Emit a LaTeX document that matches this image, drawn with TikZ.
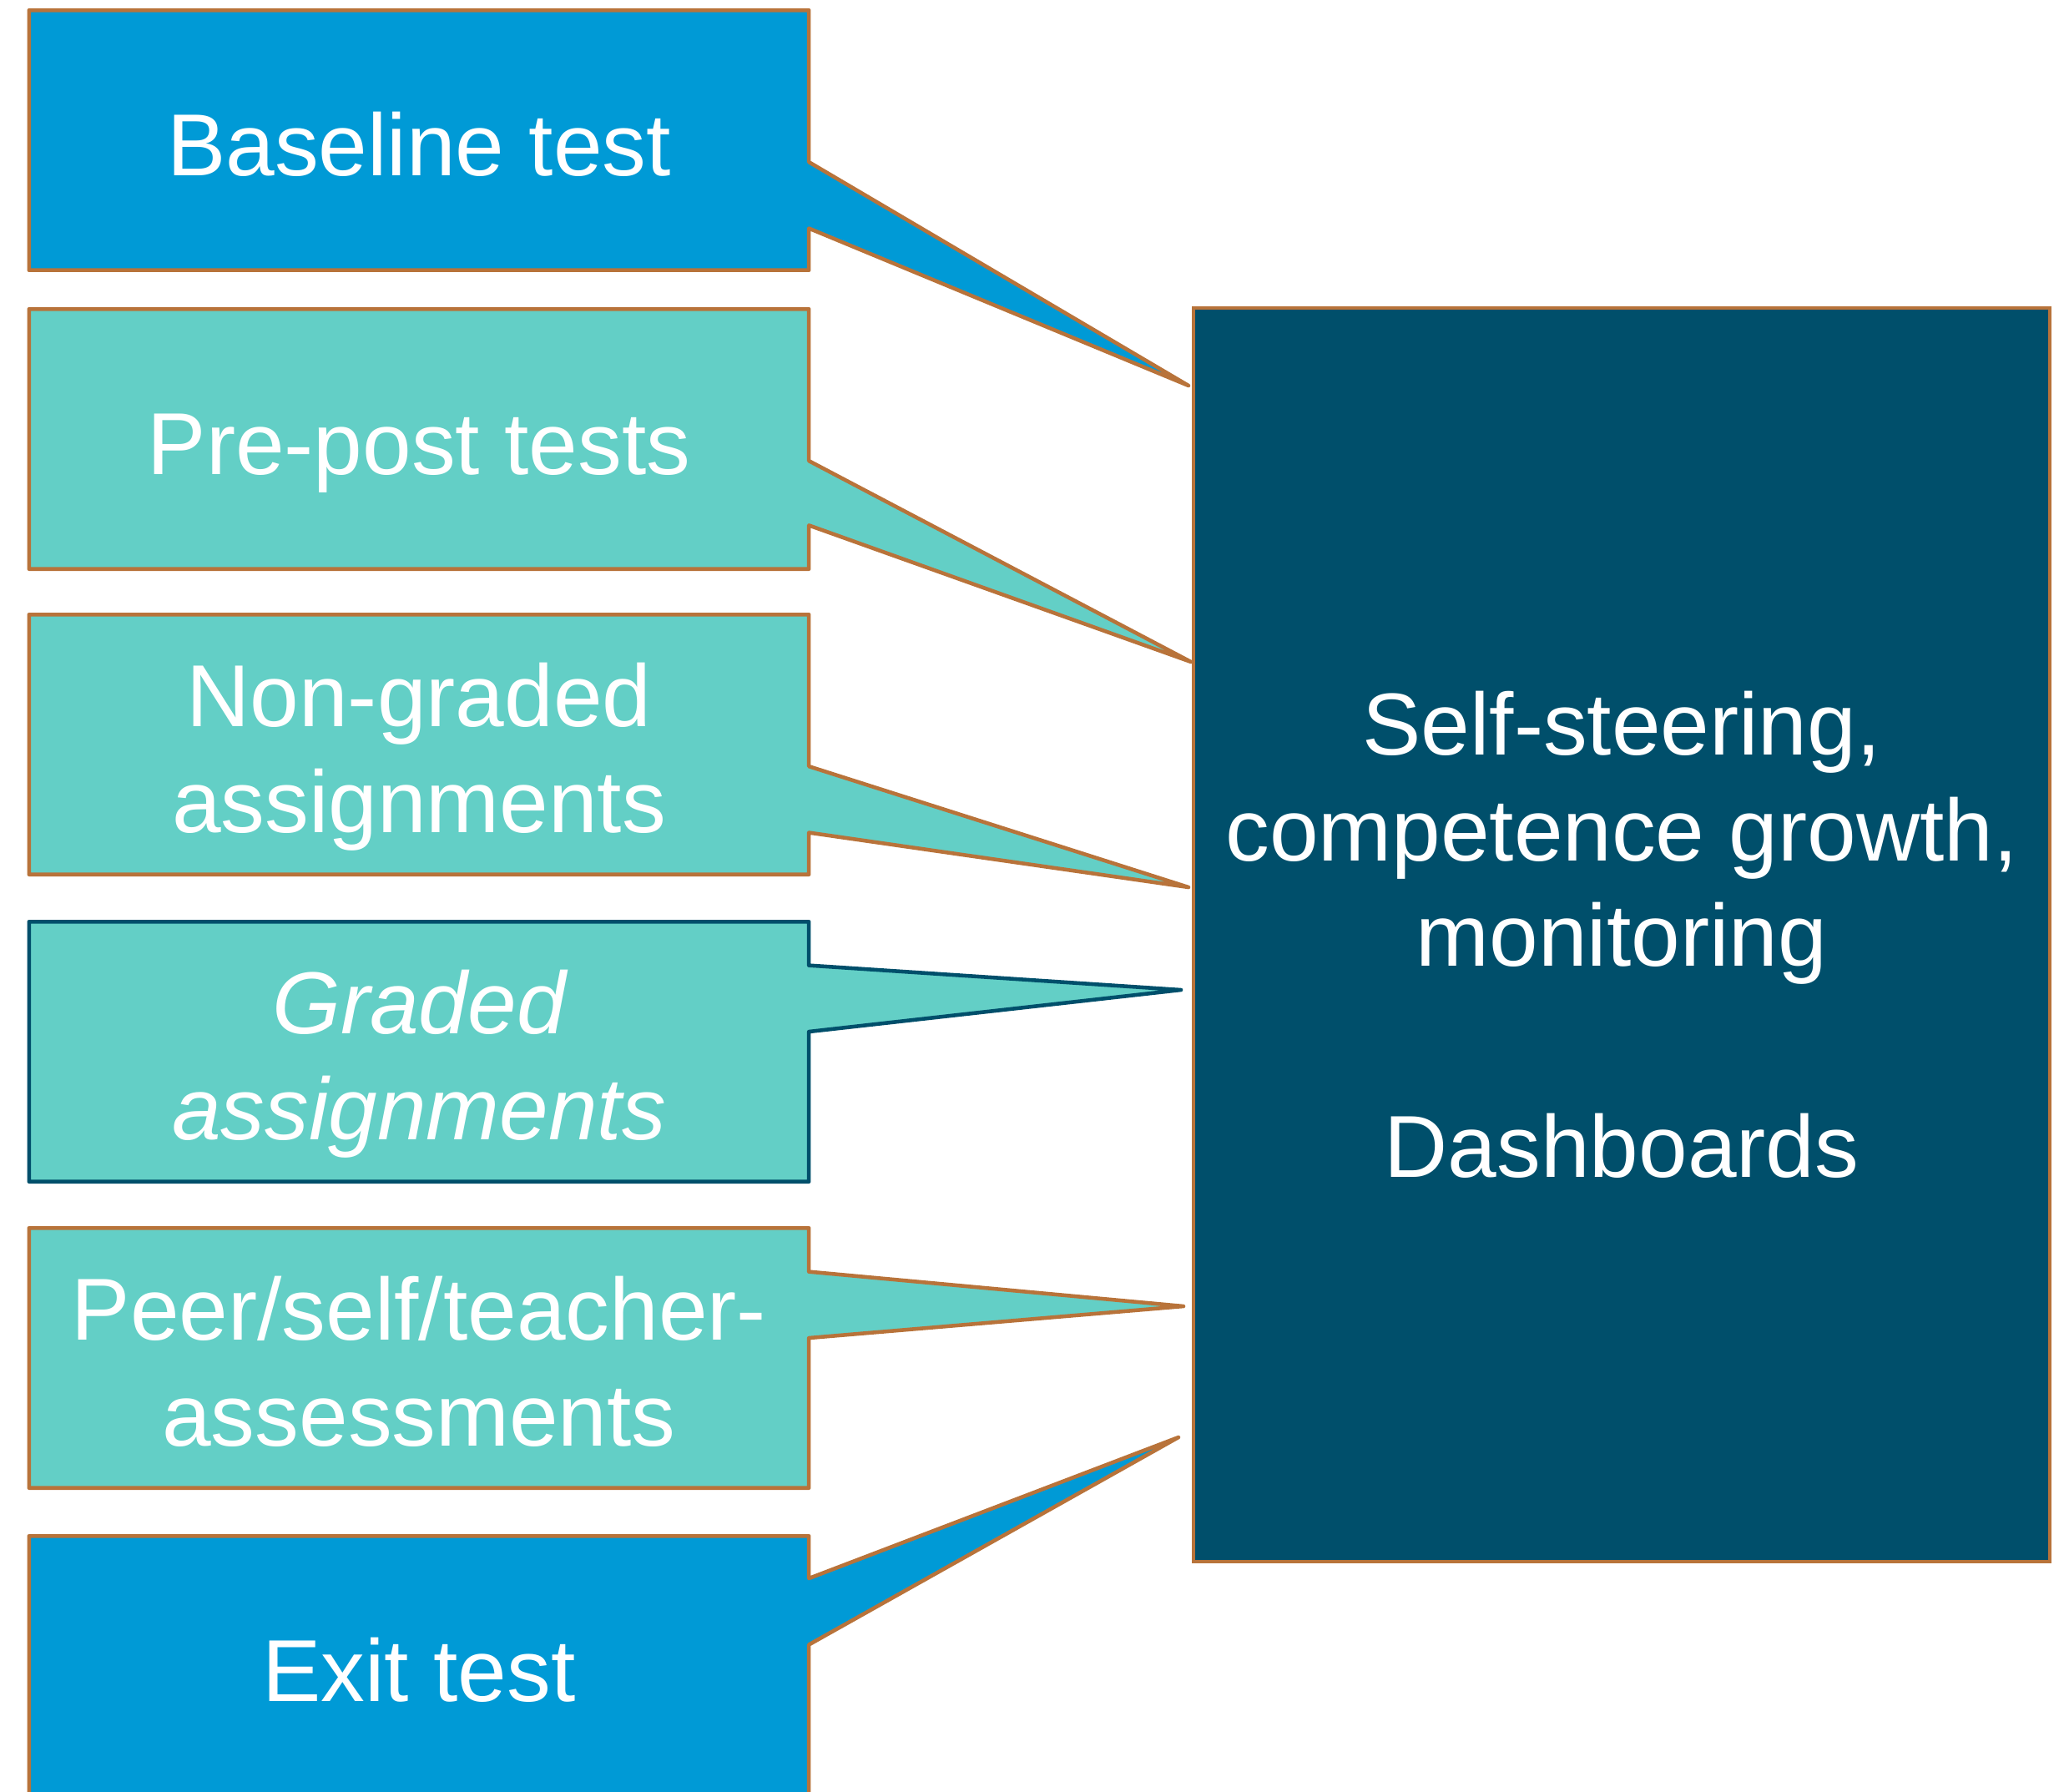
\documentclass[tikz,border=0pt]{standalone}
\usepackage{fontspec}
\setmainfont{Liberation Sans}
\usepackage{xcolor}
\usepackage{tikz}
\usetikzlibrary{calc}
\usetikzlibrary{backgrounds}
\definecolor{tblue}{HTML}{009AD6}
\definecolor{tteal}{HTML}{63CFC6}
\definecolor{tdark}{HTML}{004F6B}
\definecolor{tedge}{HTML}{B8733A}
\newcommand{\capstrut}{\rule{0pt}{30.2pt}}
\newcommand{\descstrut}{\rule[-6.3pt]{0pt}{6.3pt}}
\tikzset{ test_box/.style = {rectangle, minimum width=9.33cm, minimum height=3.1cm, inner sep=0pt, align=center, text=white, font=\fontsize{30}{36}\selectfont} }
\tikzset{ goal_box/.style = {rectangle, minimum width=10.26cm, minimum height=15.02cm, inner sep=0pt, align=center, text=white, fill=tdark, draw=tedge, line width=1.3pt, font=\fontsize{30}{36}\selectfont} }
\tikzset{ callout/.style = {draw=tedge, line width=1.3pt, line join=round} }

\begin{document}
\begin{tikzpicture}
    \useasboundingbox (0,0) rectangle (24.73,-21.47);
    \node [style=goal_box] (6) at (19.43,-11.20) {Self-steering,\\competence growth,\\monitoring\\[36pt]Dashboards};
    \node [style=test_box] (0) at (5.02,-1.68) {\capstrut Baseline test\descstrut};
    \node [style=test_box] (1) at (5.02,-5.26) {\capstrut Pre-post tests\descstrut};
    \node [style=test_box] (2) at (5.02,-8.92) {\capstrut Non-graded\\assignments\descstrut};
    \node [style=test_box, font=\fontsize{30}{36}\selectfont\itshape] (3) at (5.02,-12.60) {\capstrut Graded\\assignments\descstrut};
    \node [style=test_box] (4) at (5.02,-16.27) {\capstrut Peer/self/teacher-\\assessments\descstrut};
    \node [style=test_box] (5) at (5.02,-19.96) {\capstrut Exit test\descstrut};
    % pointer tips on the left side of the dashboard box
    \coordinate (p0) at (14.24,-4.62);
    \coordinate (p1) at (14.27,-7.93);
    \coordinate (p2) at (14.24,-10.63);
    \coordinate (p3) at (14.15,-11.86);
    \coordinate (p4) at (14.18,-15.65);
    \coordinate (p5) at (14.12,-17.22);
    \begin{pgfonlayer}{background}
        \draw [style=callout, fill=tblue] (0.north west) -- (0.north east) -- ($(0.north east)!0.584!(0.south east)$) -- (p0) -- ($(0.north east)!0.839!(0.south east)$) -- (0.south east) -- (0.south west) -- cycle;
        \draw [style=callout, fill=tteal] (1.north west) -- (1.north east) -- ($(1.north east)!0.584!(1.south east)$) -- (p1) -- ($(1.north east)!0.832!(1.south east)$) -- (1.south east) -- (1.south west) -- cycle;
        \draw [style=callout, fill=tteal] (2.north west) -- (2.north east) -- ($(2.north east)!0.584!(2.south east)$) -- (p2) -- ($(2.north east)!0.839!(2.south east)$) -- (2.south east) -- (2.south west) -- cycle;
        \draw [style=callout, fill=tteal, draw=tdark] (3.north west) -- (3.north east) -- ($(3.north east)!0.168!(3.south east)$) -- (p3) -- ($(3.north east)!0.423!(3.south east)$) -- (3.south east) -- (3.south west) -- cycle;
        \draw [style=callout, fill=tteal] (4.north west) -- (4.north east) -- ($(4.north east)!0.168!(4.south east)$) -- (p4) -- ($(4.north east)!0.423!(4.south east)$) -- (4.south east) -- (4.south west) -- cycle;
        \draw [style=callout, fill=tblue] (5.north west) -- (5.north east) -- ($(5.north east)!0.163!(5.south east)$) -- (p5) -- ($(5.north east)!0.418!(5.south east)$) -- (5.south east) -- (5.south west) -- cycle;
    \end{pgfonlayer}
\end{tikzpicture}
\end{document}
